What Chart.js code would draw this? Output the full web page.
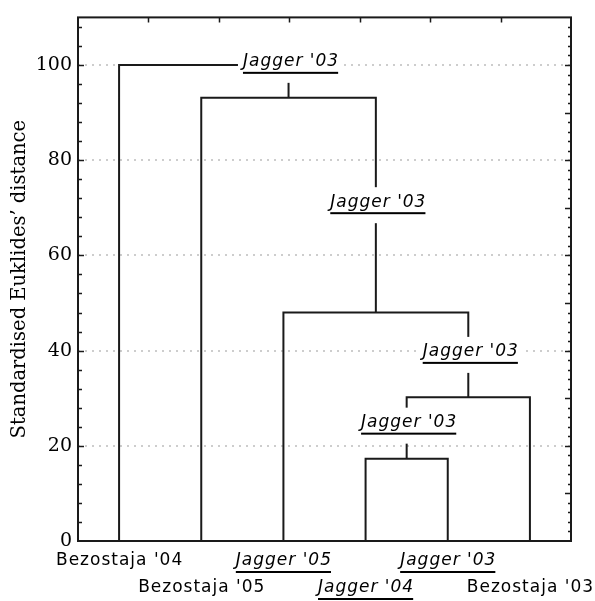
<!DOCTYPE html>
<html>
<head>
<meta charset="utf-8">
<script src="https://cdn.jsdelivr.net/npm/chart.js@4.4.1/dist/chart.umd.min.js"></script>
<style>
  html, body { margin: 0; padding: 0; background: #fff; }
</style>
</head>
<body>
<canvas id="chart" width="595" height="601"></canvas>
<script>
// leaves of the dendrogram, left to right
const leaves = ["Bezostaja '04", "Bezostaja '05", "Jagger '05", "Jagger '04", "Jagger '03", "Bezostaja '03"];

// merges: [child a, child b, distance]; nodes 0-5 are leaves, 6+ are merges in order
const merges = [
    [3, 4, 17.3],
    [6, 5, 30.2],
    [2, 7, 48.0],
    [1, 8, 93.1],
    [0, 9, 100.0],
];

// label written on the branch above each merge
const nodeLabels = ["Jagger '03", "Jagger '03", "Jagger '03", "Jagger '03", ''];

const yTicks = [0, 20, 40, 60, 80, 100];

const LINE = '#1a1a1a';
const PIXEL_FONT = '"DejaVu Sans", sans-serif';

// Lay out the tree: leaves sit at i + 0.5, a merge sits halfway between its children.
const nodeX = leaves.map((_, i) => i + 0.5);
const nodeH = leaves.map(() => 0);
merges.forEach(([a, b, h]) => {
    nodeX.push((nodeX[a] + nodeX[b]) / 2);
    nodeH.push(h);
});

// One U-shaped link per merge.
const datasets = merges.map(([a, b, h]) => ({
    data: [
        { x: nodeX[a], y: nodeH[a] },
        { x: nodeX[a], y: h },
        { x: nodeX[b], y: h },
        { x: nodeX[b], y: nodeH[b] },
    ],
    borderColor: LINE,
    borderWidth: 2,
    pointRadius: 0,
    tension: 0,
    fill: false,
    clip: false,
}));

function setPixelFont(ctx, italic) {
    ctx.font = (italic ? 'italic ' : '') + '17px ' + PIXEL_FONT;
    ctx.letterSpacing = '1px';
}

// Underlined italic labels in white boxes on the branches.
const branchLabels = {
    id: 'branchLabels',
    afterDatasetsDraw(chart) {
        const { ctx, scales: { x, y } } = chart;
        ctx.save();
        merges.forEach((m, i) => {
            const text = nodeLabels[i];
            if (!text) return;
            const node = leaves.length + i;
            const parent = merges.findIndex((p) => p[0] === node || p[1] === node);
            const px = x.getPixelForValue(nodeX[node]) + 2;
            const yChild = y.getPixelForValue(nodeH[node]);
            const yParent = y.getPixelForValue(merges[parent][2]);
            const cy = Math.min((yChild + yParent) / 2, yChild - 33);
            setPixelFont(ctx, true);
            const w = ctx.measureText(text).width - 1;
            ctx.fillStyle = '#fff';
            ctx.fillRect(px - w / 2 - 5, cy - 18, w + 10, 36);
            ctx.fillStyle = '#000';
            ctx.textAlign = 'left';
            ctx.textBaseline = 'middle';
            ctx.fillText(text, px - w / 2, cy - 3);
            ctx.fillRect(px - w / 2, cy + 7, w, 2);
        });
        ctx.restore();
    },
};

// Frame, inward tick marks and the two rows of leaf names.
const frameAndLeaves = {
    id: 'frameAndLeaves',
    afterDraw(chart) {
        const { ctx, chartArea: { left, right, top, bottom }, scales: { x, y, xTop } } = chart;
        ctx.save();
        ctx.strokeStyle = LINE;
        ctx.lineWidth = 2;
        ctx.strokeRect(left, top, right - left, bottom - top);

        ctx.lineWidth = 1.5;
        ctx.beginPath();
        for (let v = 1; v < 7; v++) {
            const px = Math.round(xTop.getPixelForValue(v)) + 0.5;
            ctx.moveTo(px, top);
            ctx.lineTo(px, top + 5);
        }
        for (let v = 4; v < 110; v += 4) {
            const py = Math.round(y.getPixelForValue(v)) + 0.5;
            ctx.moveTo(left, py);
            ctx.lineTo(left + (v % 20 === 0 ? 6 : 4), py);
        }
        for (let v = 2; v < 110; v += 2) {
            const py = Math.round(y.getPixelForValue(v)) + 0.5;
            ctx.moveTo(right, py);
            ctx.lineTo(right - (v % 10 === 0 ? 6 : 3), py);
        }
        ctx.stroke();

        ctx.fillStyle = '#000';
        ctx.textAlign = 'left';
        ctx.textBaseline = 'middle';
        leaves.forEach((name, i) => {
            const px = x.getPixelForValue(nodeX[i]);
            const py = bottom + 20 + (i % 2) * 27;
            const jagger = name.startsWith('Jagger');
            setPixelFont(ctx, jagger);
            const w = ctx.measureText(name).width - 1;
            ctx.fillText(name, px - w / 2, py);
            if (jagger) {
                ctx.fillRect(px - w / 2, py + 10, w, 2);
            }
        });
        ctx.restore();
    },
};

new Chart(document.getElementById('chart'), {
    type: 'line',
    data: { datasets },
    options: {
        responsive: false,
        animation: false,
        layout: { padding: { top: 13, right: 24, bottom: 60, left: 0 } },
        plugins: { legend: { display: false }, tooltip: { enabled: false } },
        scales: {
            x: { type: 'linear', min: 0, max: leaves.length, display: false },
            xTop: { type: 'linear', axis: 'x', position: 'top', min: 0, max: 7, display: false },
            y: {
                type: 'linear',
                min: 0,
                max: 110,
                afterFit: (scale) => { scale.width = 78; },
                afterBuildTicks: (scale) => { scale.ticks = yTicks.map((value) => ({ value })); },
                ticks: {
                    padding: 6,
                    color: '#000',
                    font: { family: '"DejaVu Serif", serif', size: 19 },
                },
                grid: {
                    drawTicks: false,
                    lineWidth: 2,
                    color: (c) => (c.tick && c.tick.value > 0 && c.tick.value <= 100 ? '#cdcdcd' : 'rgba(0,0,0,0)'),
                },
                border: { display: false, dash: [2, 5] },
                title: {
                    display: true,
                    text: 'Standardised Euklides\u2019 distance',
                    color: '#000',
                    padding: { top: 8, bottom: 0 },
                    font: { family: '"DejaVu Serif", serif', size: 19.5 },
                },
            },
        },
    },
    plugins: [branchLabels, frameAndLeaves],
});
</script>
</body>
</html>
